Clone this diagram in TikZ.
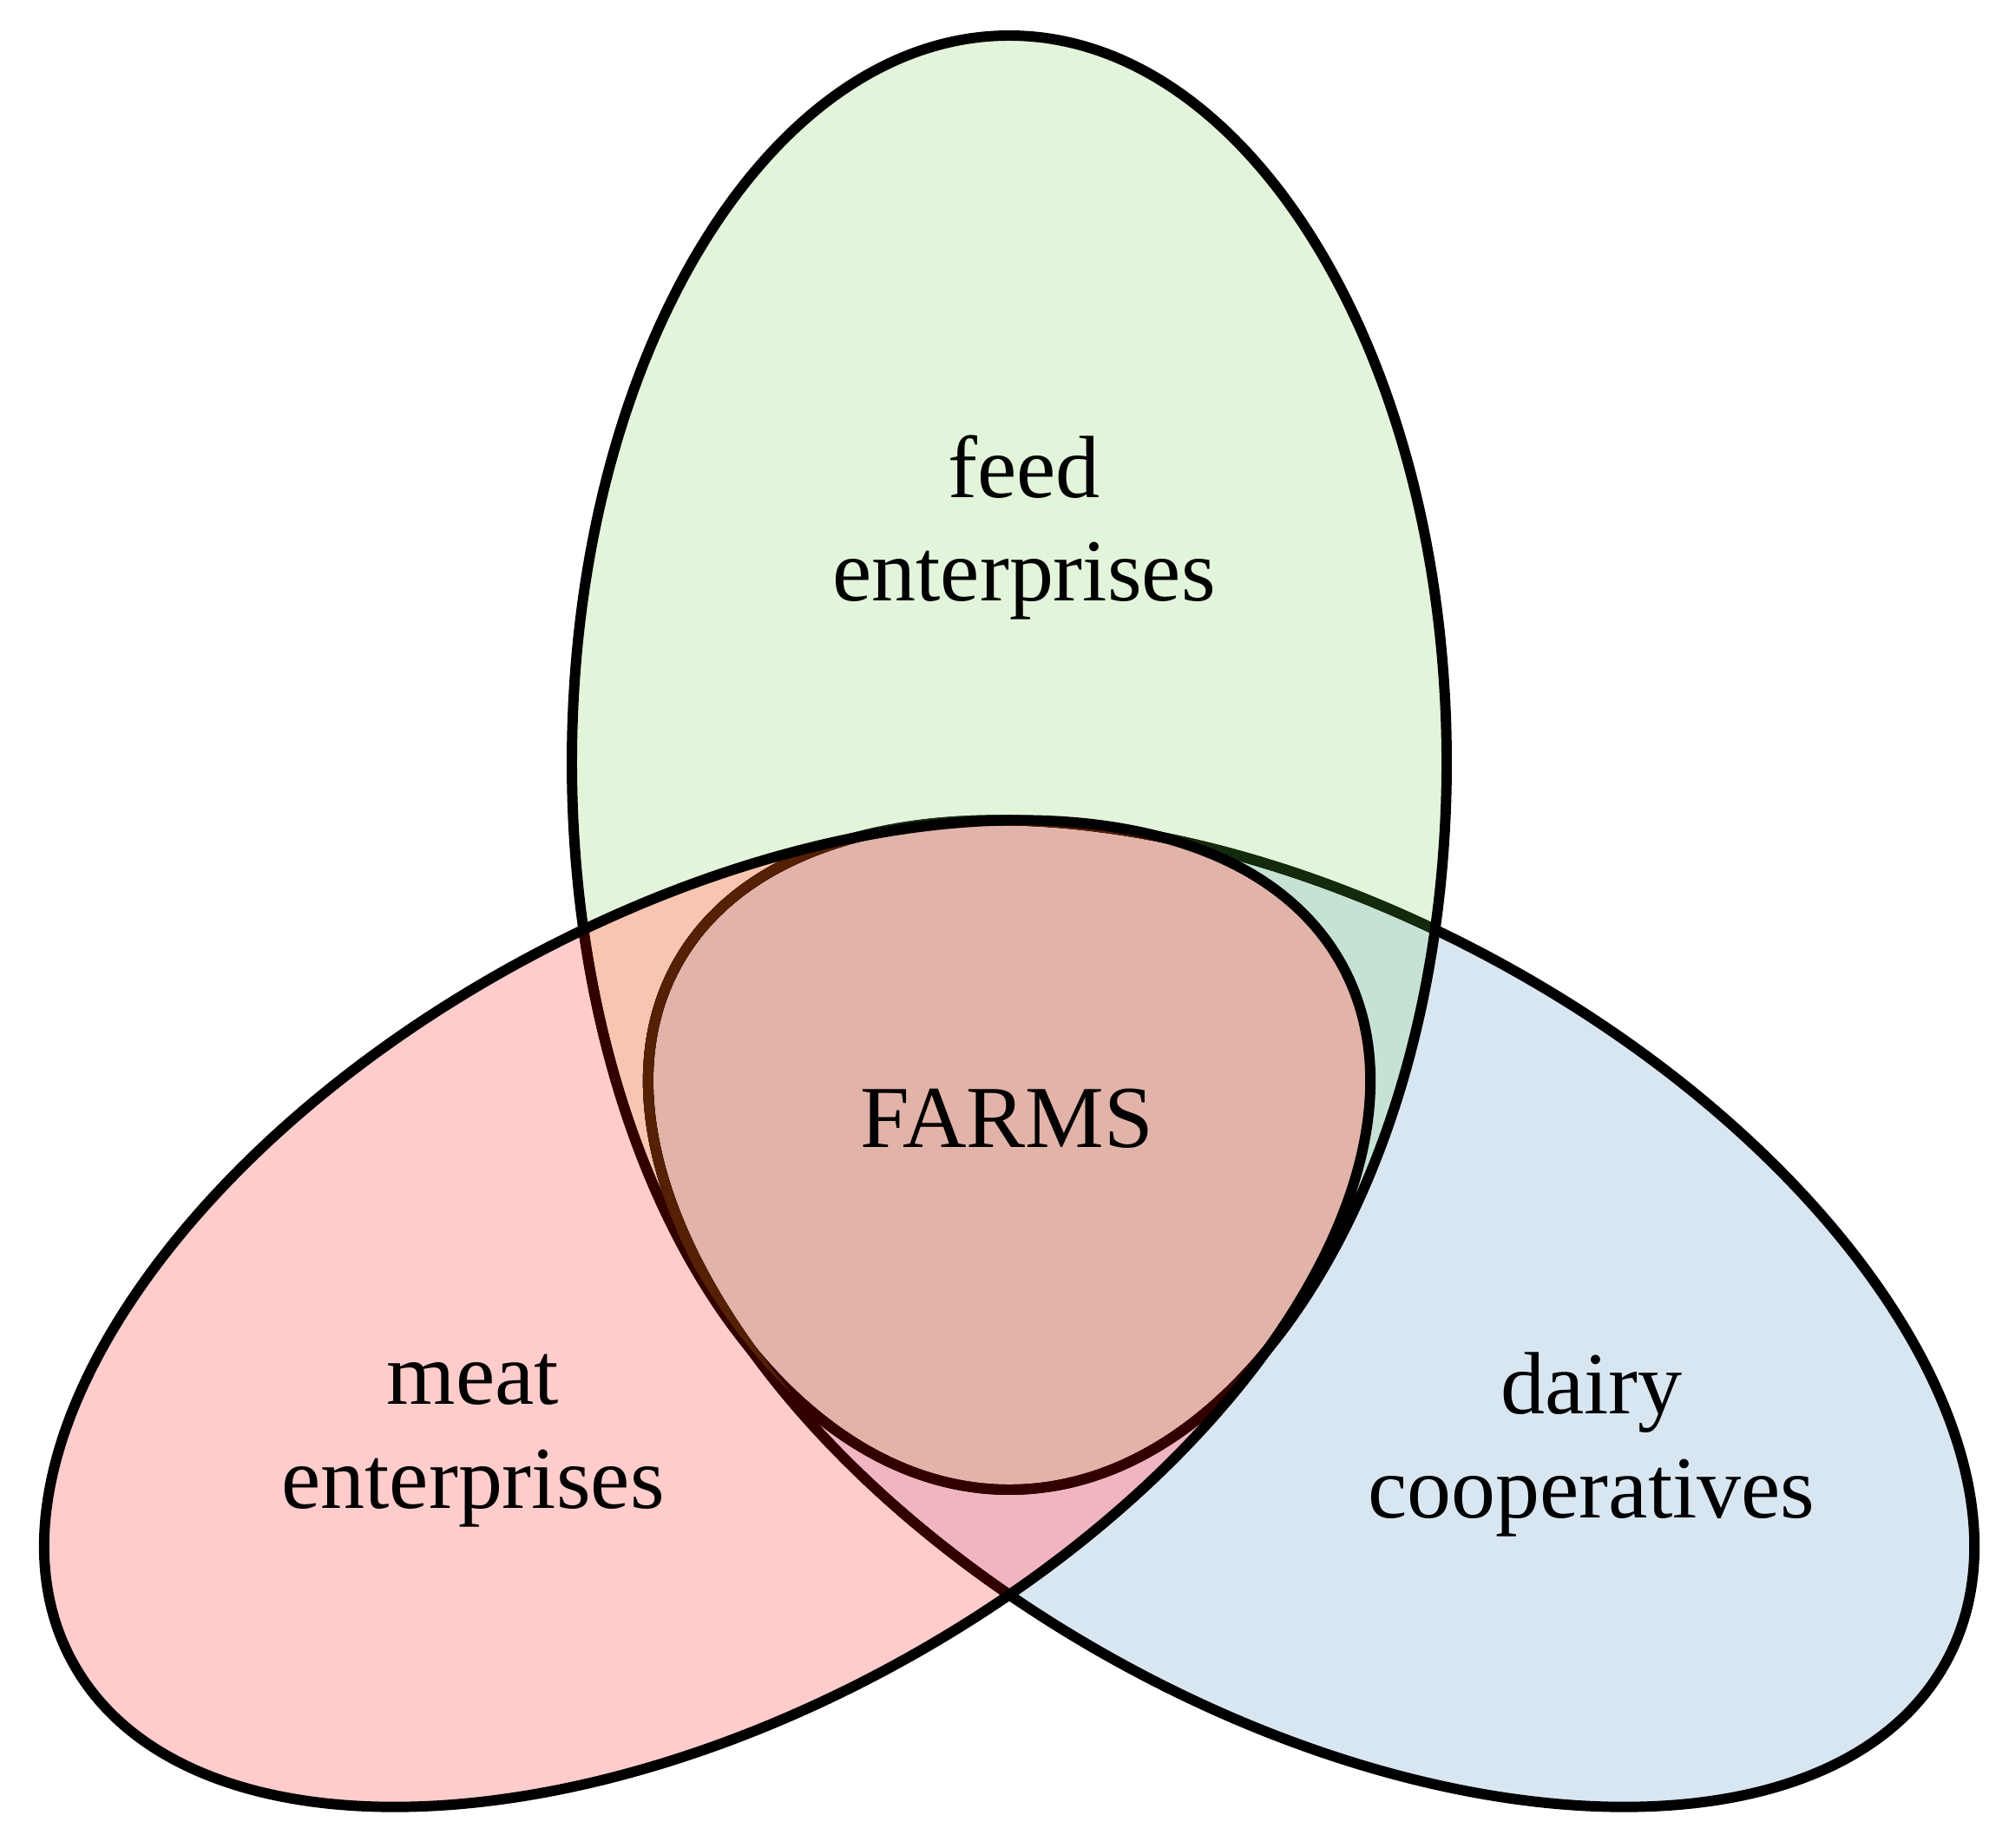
\documentclass[tikz,border=0pt]{standalone}
\usepackage{fontspec}
\setmainfont{Liberation Serif}
\definecolor{dairyfill}{RGB}{216,230,242}
\definecolor{feedfill}{RGB}{226,244,218}
\definecolor{meatfill}{RGB}{255,204,204}
\definecolor{feeddairy}{RGB}{197,226,213}
\definecolor{feedmeat}{RGB}{248,197,176}
\definecolor{meatdairy}{RGB}{240,181,192}
\definecolor{allthree}{RGB}{226,179,168}
\definecolor{rimgreen}{RGB}{20,42,12}
\definecolor{rimred}{RGB}{51,0,0}
\definecolor{rimbrown}{RGB}{85,32,4}
\newcommand\feedshape{(11.63,12.50) ellipse [x radius=5.04, y radius=8.38]}
\newcommand\meatshape{(8.15,6.15) ellipse [x radius=8.345, y radius=4.59]}
\newcommand\dairyshape{(15.11,6.15) ellipse [x radius=8.345, y radius=4.59]}
\begin{document}
\begin{tikzpicture}[line join=round, line cap=round,
 rim/.style={line width=3.4pt},
 meatrot/.style={rotate around={28.8:(8.15,6.15)}},
 dairyrot/.style={rotate around={-28.8:(15.11,6.15)}},
 lbl/.style={font=\fontsize{29}{34}\selectfont, align=center, anchor=base}]
 \useasboundingbox (0,0) rectangle (23.15,21.29);
 % fills
 \fill[dairyrot, dairyfill] \dairyshape;
 \fill[feedfill] \feedshape;
 \fill[meatrot, meatfill] \meatshape;
 \begin{scope}
  \clip \feedshape;
  \fill[dairyrot, feeddairy] \dairyshape;
 \end{scope}
 \begin{scope}
  \clip[meatrot] \meatshape;
  \fill[feedmeat] \feedshape;
  \fill[dairyrot, meatdairy] \dairyshape;
  \clip \feedshape;
  \fill[dairyrot, allthree] \dairyshape;
 \end{scope}
 % outlines
 \draw[rim, dairyrot] \dairyshape;
 \begin{scope}
  \clip \feedshape;
  \draw[rim, dairyrot, rimgreen] \dairyshape;
 \end{scope}
 \draw[rim] \feedshape;
 \begin{scope}
  \clip[meatrot] \meatshape;
  \draw[rim, dairyrot, rimred] \dairyshape;
  \draw[rim, rimred] \feedshape;
  \clip \feedshape;
  \draw[rim, dairyrot, rimbrown] \dairyshape;
 \end{scope}
 \draw[rim, meatrot] \meatshape;
 \node[lbl] (feed) at (11.80,14.36) {feed\\enterprises};
 \node[lbl] (farms) at (11.60,8.07) {FARMS};
 \node[lbl] (meat) at (5.45,3.91) {meat\\enterprises};
 \node[lbl] (dairy) at (18.34,3.80) {dairy\\cooperatives};
\end{tikzpicture}
\end{document}
